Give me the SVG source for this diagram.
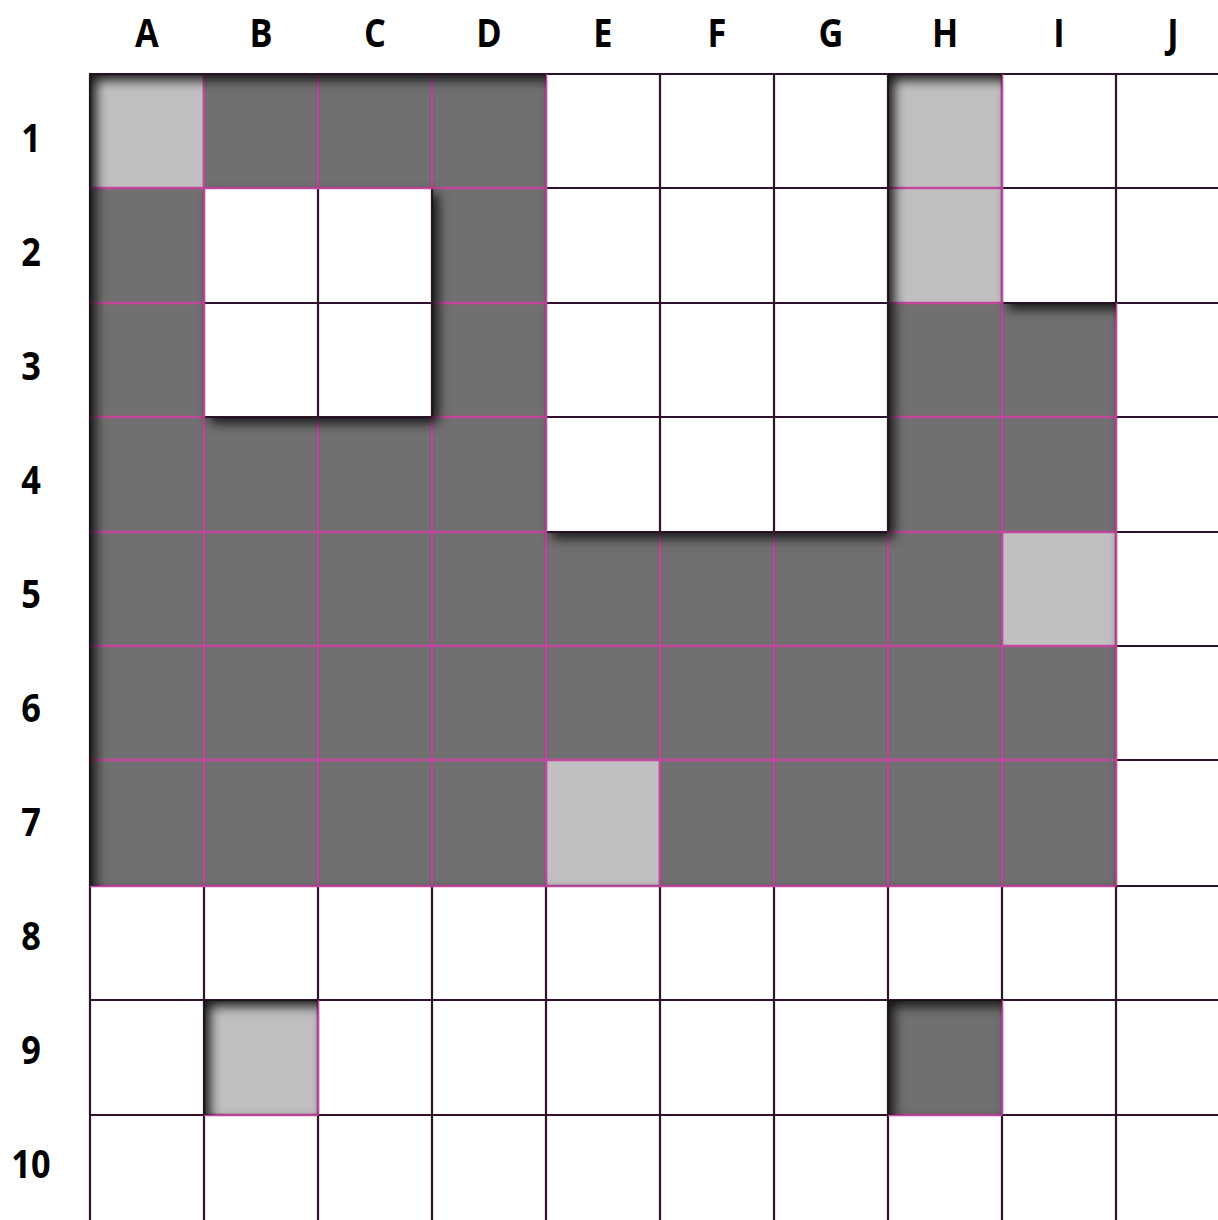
<svg xmlns="http://www.w3.org/2000/svg" xmlns:xlink="http://www.w3.org/1999/xlink" width="1218" height="1220" viewBox="0 0 1218 1220">
<style>
.d{fill:#707070}
.l{fill:#c1bfc1}
.grid{stroke:#30122d;stroke-width:2.2;fill:none}
.pink{stroke:#c2479e;stroke-width:2.4;fill:none}
.lab{font-family:"Open Sans","Noto Sans",sans-serif;font-weight:700;font-size:39px;fill:#000;text-anchor:middle}
</style>
<defs>
<filter id="inset" x="-5%" y="-5%" width="110%" height="110%" color-interpolation-filters="sRGB">
<feComponentTransfer in="SourceAlpha" result="inv"><feFuncA type="table" tableValues="1 0"/></feComponentTransfer>
<feOffset in="inv" dx="6" dy="6" result="off"/>
<feGaussianBlur in="off" stdDeviation="6" result="blur"/>
<feFlood flood-color="#141414" flood-opacity="1"/>
<feComposite in2="blur" operator="in" result="sh"/>
<feComposite in="sh" in2="SourceAlpha" operator="in"/>
</filter>
</defs>
<rect width="1218" height="1220" fill="#fff"/>
<g id="cells">
<g id="row1"><rect class="l" x="90" y="74" width="114" height="114"/><rect class="d" x="204" y="74" width="114" height="114"/><rect class="d" x="318" y="74" width="114" height="114"/><rect class="d" x="432" y="74" width="114" height="114"/><rect class="l" x="888" y="74" width="114" height="114"/></g>
<g id="row2"><rect class="d" x="90" y="188" width="114" height="115"/><rect class="d" x="432" y="188" width="114" height="115"/><rect class="l" x="888" y="188" width="114" height="115"/></g>
<g id="row3"><rect class="d" x="90" y="303" width="114" height="114"/><rect class="d" x="432" y="303" width="114" height="114"/><rect class="d" x="888" y="303" width="114" height="114"/><rect class="d" x="1002" y="303" width="114" height="114"/></g>
<g id="row4"><rect class="d" x="90" y="417" width="456" height="115"/><rect class="d" x="888" y="417" width="228" height="115"/></g>
<g id="row5"><rect class="d" x="90" y="532" width="912" height="114"/><rect class="l" x="1002" y="532" width="114" height="114"/></g>
<g id="row6"><rect class="d" x="90" y="646" width="1026" height="114"/></g>
<g id="row7"><rect class="d" x="90" y="760" width="456" height="126"/><rect class="l" x="546" y="760" width="114" height="126"/><rect class="d" x="660" y="760" width="456" height="126"/></g>
<g id="row9"><rect class="l" x="204" y="1000" width="114" height="115"/><rect class="d" x="888" y="1000" width="114" height="115"/></g>
</g>
<g id="gridlines">
<path class="grid" d="M90 74V1220M204 74V1220M318 74V1220M432 74V1220M546 74V1220M660 74V1220M774 74V1220M888 74V1220M1002 74V1220M1116 74V1220M89 74H1218M89 188H1218M89 303H1218M89 417H1218M89 532H1218M89 646H1218M89 760H1218M89 886H1218M89 1000H1218M89 1115H1218"/>
<path class="pink" d="M90 188H546M888 188H1002M90 303H204M432 303H546M888 303H1002M90 417H204M432 417H546M888 417H1116M90 532H546M888 532H1116M90 646H1116M90 760H1116M90 886H1116M204 1115H318M888 1115H1002M204 74V886M318 74V188M318 417V886M318 1000V1115M432 74V188M432 417V886M546 74V886M660 532V886M774 532V886M888 532V886M1002 74V886M1002 1000V1115M1116 303V886"/>
</g>
<use id="shadow" xlink:href="#cells" filter="url(#inset)"/>
<g id="col-labels" transform="scale(0.88 1)">
<text class="lab" x="167" y="47">A</text><text class="lab" x="296.6" y="47">B</text><text class="lab" x="426.1" y="47">C</text><text class="lab" x="555.7" y="47">D</text><text class="lab" x="685.2" y="47">E</text><text class="lab" x="814.8" y="47">F</text><text class="lab" x="944.3" y="47">G</text><text class="lab" x="1073.9" y="47">H</text><text class="lab" x="1203.4" y="47">I</text><text class="lab" x="1333" y="47">J</text>
</g>
<g id="row-labels" transform="scale(0.88 1)">
<text class="lab" x="35.2" y="152">1</text><text class="lab" x="35.2" y="266">2</text><text class="lab" x="35.2" y="380">3</text><text class="lab" x="35.2" y="494">4</text><text class="lab" x="35.2" y="608">5</text><text class="lab" x="35.2" y="722">6</text><text class="lab" x="35.2" y="836">7</text><text class="lab" x="35.2" y="950">8</text><text class="lab" x="35.2" y="1064">9</text><text class="lab" x="35.2" y="1178">10</text>
</g>
</svg>
